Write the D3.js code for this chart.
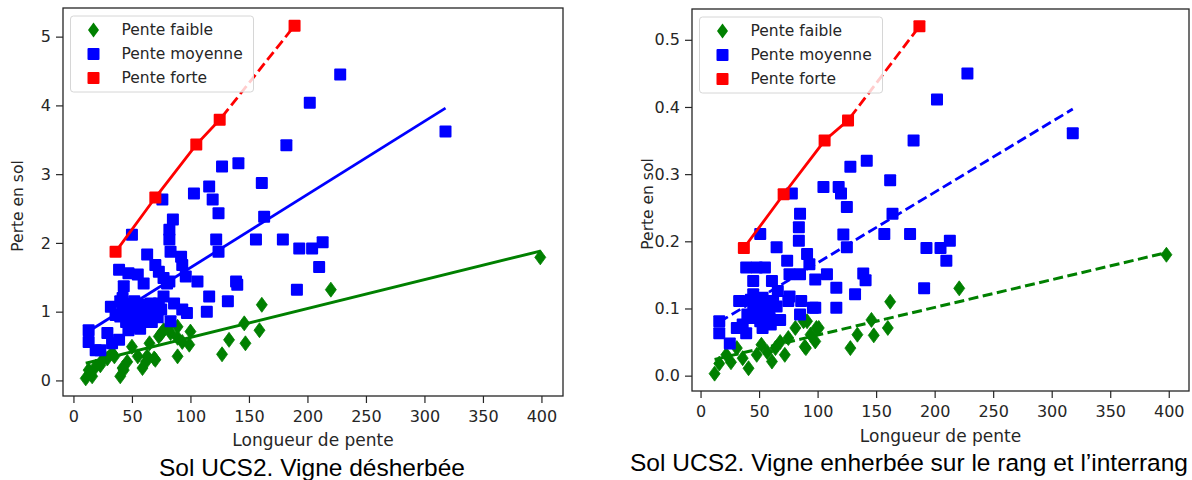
<!DOCTYPE html>
<html><head><meta charset="utf-8">
<script src="https://cdn.jsdelivr.net/npm/d3@7"></script>
<style>body{margin:0;background:#fff}svg{display:block}</style>
</head><body>
<svg id="c" width="1192" height="480"></svg>
<script>
// ---------- data ----------
const seriesNames = ["Pente faible", "Pente moyenne", "Pente forte"];
const xTickValues = [0, 50, 100, 150, 200, 250, 300, 350, 400];
const leftYTickValues = [0, 1, 2, 3, 4, 5];
const rightYTickValues = [0, 0.1, 0.2, 0.3, 0.4, 0.5];
const axisLabelX = "Longueur de pente";
const axisLabelY = "Perte en sol";
const captionLeft = "Sol UCS2. Vigne désherbée";
const captionRight = "Sol UCS2. Vigne enherbée sur le rang et l’interrang";

const leftGreen = [[10.5,0.03],[13,0.15],[16,0.06],[19,0.2],[23,0.22],[25,0.3],[29,0.32],[33,0.4],[35,0.35],[40,0.06],[42,0.18],[43,0.15],[46,0.27],[50,0.49],[55,0.35],[59,0.18],[62,0.27],[63,0.35],[65,0.54],[69,0.32],[70,0.3],[73,0.64],[75,0.68],[77,0.73],[81,0.78],[83,0.69],[89,0.35],[89,0.62],[89,0.78],[93,0.56],[99,0.52],[100,0.71],[127,0.38],[133,0.59],[146,0.83],[147,0.54],[159,0.73],[161,1.1],[220,1.32],[399,1.79]];
const leftBlue = [[13,0.73],[13,0.56],[19,0.44],[23,0.44],[29,0.69],[32,1.07],[33,0.54],[36,0.95],[39,1.61],[39,0.59],[40,0.93],[40,1.15],[42,1.2],[42,1.0],[43,1.37],[43,1.12],[45,0.85],[45,1.1],[47,1.56],[47,0.73],[48,0.95],[49,1.03],[50,2.12],[50,0.8],[50,1.05],[52,0.9],[52,1.15],[55,1.54],[55,0.98],[55,0.78],[55,0.88],[57,1.1],[57,0.75],[58,1.0],[60,1.41],[60,1.07],[60,0.85],[62,0.95],[62,1.1],[63,1.83],[63,0.88],[65,0.98],[66,1.12],[67,0.85],[68,1.0],[70,1.68],[70,1.05],[72,0.92],[73,1.58],[73,1.12],[75,1.03],[76,2.63],[77,1.49],[77,1.22],[80,1.41],[82,2.05],[82,2.19],[82,1.44],[85,2.34],[83,1.87],[83,0.86],[86,1.12],[92,1.80],[93,1.68],[93,1.03],[96,1.51],[97,0.98],[103,2.72],[106,1.44],[114,1.0],[116,1.22],[116,2.82],[119,2.63],[122,2.05],[124,1.87],[124,2.43],[127,3.11],[132,1.15],[139,1.44],[140,1.39],[141,3.16],[156,2.05],[161,2.87],[163,2.38],[179,2.05],[182,3.42],[191,1.32],[193,1.92],[202,4.04],[204,1.92],[210,1.65],[213,2.01],[228,4.45],[318,3.62]];
const leftRed = [[36,1.87],[70,2.66],[105,3.43],[125,3.79],[189,5.16]];

const rightGreen = [[12,0.003],[16,0.018],[22,0.031],[26,0.02],[31,0.041],[36,0.026],[41,0.011],[48,0.031],[52,0.046],[57,0.035],[61,0.021],[64,0.041],[68,0.05],[72,0.031],[75,0.056],[81,0.071],[88,0.081],[89,0.043],[90,0.041],[91,0.081],[94,0.061],[98,0.051],[99,0.071],[101,0.071],[128,0.041],[134,0.061],[146,0.083],[148,0.06],[160,0.071],[162,0.11],[221,0.13],[398,0.18]];
const rightBlue = [[16,0.081],[16,0.063],[25,0.048],[31,0.071],[33,0.111],[36,0.076],[39,0.063],[39,0.161],[40,0.091],[42,0.086],[43,0.113],[45,0.141],[45,0.121],[45,0.101],[48,0.161],[48,0.096],[50,0.106],[51,0.081],[51,0.211],[53,0.116],[53,0.071],[55,0.161],[56,0.101],[57,0.091],[59,0.086],[60,0.076],[61,0.141],[62,0.111],[65,0.191],[65,0.103],[66,0.126],[68,0.083],[74,0.171],[75,0.111],[76,0.151],[76,0.118],[78,0.271],[84,0.221],[85,0.241],[84,0.201],[85,0.151],[85,0.091],[86,0.111],[91,0.181],[93,0.166],[96,0.101],[98,0.143],[98,0.101],[105,0.281],[108,0.151],[116,0.131],[116,0.101],[118,0.281],[120,0.271],[122,0.21],[125,0.251],[125,0.191],[128,0.311],[132,0.121],[139,0.152],[141,0.142],[142,0.32],[157,0.211],[162,0.291],[164,0.241],[179,0.211],[182,0.35],[191,0.13],[193,0.19],[202,0.411],[205,0.19],[210,0.171],[213,0.201],[228,0.45],[318,0.361]];
const rightRed = [[37,0.19],[71,0.27],[106,0.35],[126,0.38],[187,0.52]];

// trend lines: [intercept, slope, xStart, xEnd]
const leftFitGreen = [0.205, 0.0042, 10.5, 399];
const leftFitBlue = [0.576, 0.01064, 13, 318];
const rightFitGreen = [0.0192, 0.000412, 12, 398];
const rightFitBlue = [0.063, 0.00105, 16, 318];

// ---------- drawing ----------
const svg = d3.select("#c");
const FONT = "'DejaVu Sans', sans-serif";
const TXT = "#262626";
const GREEN = "#008000", BLUE = "#0000ff", RED = "#ff0000";

function domainOf(arrs){
  const all = arrs.flat();
  const [xmin,xmax] = d3.extent(all, d=>d[0]);
  const [ymin,ymax] = d3.extent(all, d=>d[1]);
  const mx=(xmax-xmin)*0.05, my=(ymax-ymin)*0.05;
  return {x:[xmin-mx,xmax+mx], y:[ymin-my,ymax+my]};
}

function diamond(g, pts, x, y, color){
  g.selectAll(null).data(pts).join("path")
    .attr("d", d=>{const cx=x(d[0]), cy=y(d[1]); return `M${cx},${cy-7.5}L${cx+5.5},${cy}L${cx},${cy+7.5}L${cx-5.5},${cy}Z`;})
    .attr("fill", color).attr("stroke", color).attr("stroke-width",0.8);
}
function squares(g, pts, x, y, color){
  g.selectAll(null).data(pts).join("rect")
    .attr("x", d=>x(d[0])-6).attr("y", d=>y(d[1])-6)
    .attr("width",12).attr("height",12).attr("rx",1)
    .attr("fill", color);
}

function panel(cfg){
  const {L,R,T,B,green,blue,red,fitG,fitB,yTicks,yFmt,greenDash,blueDash,caption,capX,capY,ylabX,xlabY} = cfg;
  const dom = domainOf([green,blue,red]);
  const x = d3.scaleLinear().domain(dom.x).range([L,R]);
  const y = d3.scaleLinear().domain(dom.y).range([B,T]);
  const g = svg.append("g");
  const clipId = "clip"+L;
  svg.append("clipPath").attr("id",clipId).append("rect").attr("x",L).attr("y",T).attr("width",R-L).attr("height",B-T);
  const plot = g.append("g").attr("clip-path",`url(#${clipId})`);
  const line = d3.line().x(d=>x(d[0])).y(d=>y(d[1]));
  const fitPts = f => [[f[2], f[0]+f[1]*f[2]],[f[3], f[0]+f[1]*f[3]]];

  diamond(plot, green, x, y, GREEN);
  plot.append("path").attr("d", line(fitPts(fitG))).attr("stroke",GREEN).attr("stroke-width",3).attr("fill","none")
    .attr("stroke-dasharray", greenDash ? "10,4.5" : null);
  squares(plot, blue, x, y, BLUE);
  plot.append("path").attr("d", line(fitPts(fitB))).attr("stroke",BLUE).attr("stroke-width",2.8).attr("fill","none")
    .attr("stroke-dasharray", blueDash ? "10,4.5" : null);
  squares(plot, red, x, y, RED);
  plot.append("path").attr("d", line(red.slice(0,4))).attr("stroke",RED).attr("stroke-width",2.8).attr("fill","none");
  plot.append("path").attr("d", line(red.slice(3))).attr("stroke",RED).attr("stroke-width",2.8).attr("fill","none")
    .attr("stroke-dasharray","10,4.5").attr("stroke-dashoffset",-4);

  // axes
  const xAx = d3.axisBottom(x).tickValues(xTickValues).tickSize(7).tickPadding(8).tickFormat(d3.format("d"));
  const yAx = d3.axisLeft(y).tickValues(yTicks).tickSize(7).tickPadding(5).tickFormat(d3.format(yFmt));
  const gx = g.append("g").attr("transform",`translate(0,${B})`).call(xAx);
  const gy = g.append("g").attr("transform",`translate(${L},0)`).call(yAx);
  [gx,gy].forEach(a=>{
    a.select(".domain").remove();
    a.selectAll("line").attr("stroke","#262626").attr("stroke-width",1.2);
    a.selectAll("text").attr("fill",TXT).style("font-family",FONT).style("font-size","16px");
  });
  g.append("rect").attr("x",L).attr("y",T).attr("width",R-L).attr("height",B-T)
    .attr("fill","none").attr("stroke","#262626").attr("stroke-width",1.3);

  // axis labels
  g.append("text").attr("x",(L+R)/2).attr("y",xlabY).attr("text-anchor","middle")
    .attr("fill",TXT).style("font-family",FONT).style("font-size","17px").text(axisLabelX);
  g.append("text").attr("transform",`translate(${ylabX},${(T+B)/2 + 4}) rotate(-90)`).attr("text-anchor","middle")
    .attr("fill",TXT).style("font-family",FONT).style("font-size","15.5px").text(axisLabelY);

  // legend
  const lg = g.append("g").attr("transform",`translate(${L+7.5},${T+8})`);
  lg.append("rect").attr("width",183).attr("height",76).attr("rx",3)
    .attr("fill","#fff").attr("fill-opacity",0.8).attr("stroke","#d6d6d6").attr("stroke-width",1);
  [0,1,2].forEach(i=>{
    const cy = 14 + i*24, cx = 23;
    if(i===0){
      lg.append("path").attr("d",`M${cx},${cy-7.5}L${cx+5.5},${cy}L${cx},${cy+7.5}L${cx-5.5},${cy}Z`).attr("fill",GREEN);
    } else {
      lg.append("rect").attr("x",cx-6).attr("y",cy-6).attr("width",12).attr("height",12).attr("rx",1).attr("fill", i===1?BLUE:RED);
    }
    lg.append("text").attr("x",51).attr("y",cy).attr("dy","0.35em").attr("fill",TXT)
      .style("font-family",FONT).style("font-size","15.5px").text(seriesNames[i]);
  });

  // caption
  svg.append("text").attr("x",capX).attr("y",capY).attr("text-anchor","middle").attr("fill","#000")
    .style("font-family","'Liberation Sans', Arial, sans-serif").style("font-size","24.5px").text(caption);
}

panel({L:63,R:563,T:8,B:396,green:leftGreen,blue:leftBlue,red:leftRed,fitG:leftFitGreen,fitB:leftFitBlue,
  yTicks:leftYTickValues,yFmt:"d",greenDash:false,blueDash:false,caption:captionLeft,capX:312,capY:476,ylabX:23,xlabY:446});
panel({L:692,R:1189,T:9,B:391,green:rightGreen,blue:rightBlue,red:rightRed,fitG:rightFitGreen,fitB:rightFitBlue,
  yTicks:rightYTickValues,yFmt:".1f",greenDash:true,blueDash:true,caption:captionRight,capX:909,capY:471,ylabX:653,xlabY:442});
</script>
</body></html>
